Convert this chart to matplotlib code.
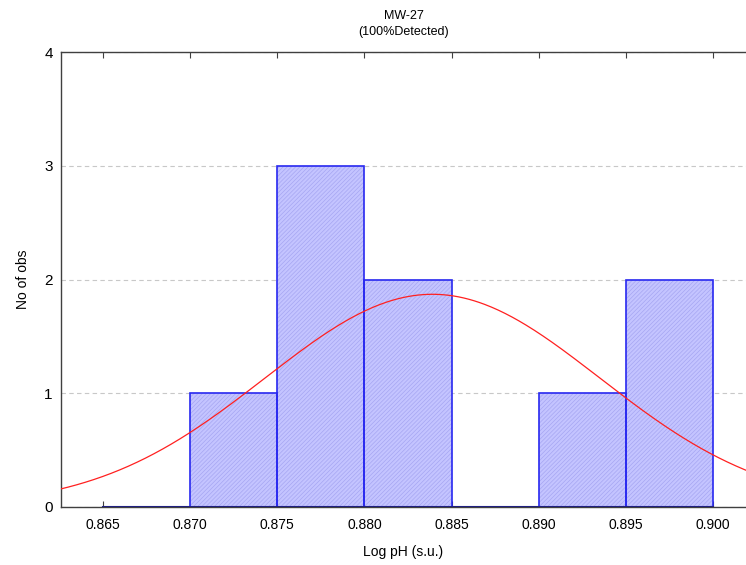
import numpy as np
import matplotlib
matplotlib.use("Agg")
import matplotlib.pyplot as plt

plt.rcParams['font.family'] = ['Liberation Sans', 'DejaVu Sans']
plt.rcParams['hatch.linewidth'] = 0.5

bin_edges = [0.865, 0.870, 0.875, 0.880, 0.885, 0.890, 0.895, 0.900]
counts = [0, 1, 3, 2, 0, 1, 2]
fit_mean = 0.8839
fit_sd = 0.0096
n_obs = 9
x_ticks = [0.865, 0.870, 0.875, 0.880, 0.885, 0.890, 0.895, 0.900]
x_tick_labels = ["0.865", "0.870", "0.875", "0.880", "0.885", "0.890", "0.895", "0.900"]
y_ticks = [0, 1, 2, 3, 4]
title = "MW-27\n(100%Detected)"
x_label = "Log pH (s.u.)"
y_label = "No of obs"

fig = plt.figure(figsize=(7.46, 5.65), dpi=100)
ax = fig.add_axes([61 / 746, 58 / 565, 685 / 746, 455 / 565])

lefts = np.array(bin_edges[:-1])
widths = np.diff(bin_edges)
ax.set_axisbelow(True)
ax.yaxis.grid(True, linestyle=(0, (4, 3)), color='#c8c8c8', linewidth=0.8)

ax.bar(lefts, counts, width=widths, align='edge', color='#c4c4ff',
       edgecolor='#a6a6f2', hatch='////////', linewidth=0, zorder=2)
ax.bar(lefts, counts, width=widths, align='edge', fill=False,
       edgecolor='#2828f0', linewidth=1.2, zorder=3)
ax.plot([bin_edges[0], bin_edges[-1]], [0, 0], color='#202080', linewidth=1.5, zorder=4)

xs = np.linspace(0.8625, 0.9019, 400)
binw = bin_edges[1] - bin_edges[0]
ys = n_obs * binw / (fit_sd * np.sqrt(2 * np.pi)) * np.exp(-0.5 * ((xs - fit_mean) / fit_sd) ** 2)
ax.plot(xs, ys, color='#ff2020', linewidth=0.9, zorder=5)

ax.set_xlim(0.86259, 0.90189)
ax.set_ylim(0, 4)
ax.set_xticks(x_ticks)
ax.set_xticklabels(x_tick_labels, fontsize=10)
ax.set_yticks(y_ticks)
ax.set_yticklabels([str(v) for v in y_ticks], fontsize=11)
ax.tick_params(axis='x', direction='in', top=True, length=4, color='#404040', pad=8)
ax.tick_params(axis='y', length=0, pad=6)
ax.spines['right'].set_visible(False)
for s in ['left', 'bottom', 'top']:
    ax.spines[s].set_color('#404040')
    ax.spines[s].set_linewidth(1.0)

ax.set_title(title, fontsize=9, pad=12, linespacing=1.45)
ax.set_xlabel(x_label, fontsize=10, labelpad=9)
ax.set_ylabel(y_label, fontsize=10, labelpad=10)

fig.savefig("out.png", dpi=100)
